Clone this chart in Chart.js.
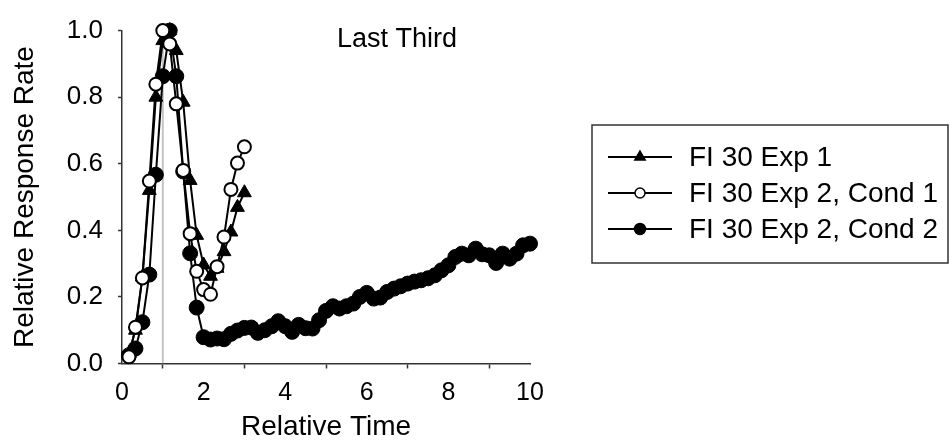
<!DOCTYPE html>
<html>
<head>
<meta charset="utf-8">
<script src="https://cdn.jsdelivr.net/npm/chart.js@4/dist/chart.umd.min.js"></script>
<style>
  html, body { margin: 0; padding: 0; background: #fff; }
</style>
</head>
<body>
<canvas id="chart" width="950" height="441"></canvas>
<script>
// relative time of each bin (sixths of the interval)
const relTime = [
  0.17, 0.33, 0.50, 0.67, 0.83, 1.00, 1.17, 1.33, 1.50, 1.67,
  1.83, 2.00, 2.17, 2.33, 2.50, 2.67, 2.83, 3.00, 3.17, 3.33,
  3.50, 3.67, 3.83, 4.00, 4.17, 4.33, 4.50, 4.67, 4.83, 5.00,
  5.17, 5.33, 5.50, 5.67, 5.83, 6.00, 6.17, 6.33, 6.50, 6.67,
  6.83, 7.00, 7.17, 7.33, 7.50, 7.67, 7.83, 8.00, 8.17, 8.33,
  8.50, 8.67, 8.83, 9.00, 9.17, 9.33, 9.50, 9.67, 9.83, 10.00
];
const exp1 = [
  0.03, 0.10, 0.26, 0.52, 0.80, 0.97, 1.00, 0.94, 0.785, 0.55,
  0.385, 0.296, 0.262, 0.286, 0.336, 0.395, 0.469, 0.513
];
const exp2Cond1 = [
  0.02, 0.109, 0.257, 0.548, 0.839, 1.00, 0.96, 0.78, 0.58, 0.39,
  0.277, 0.222, 0.208, 0.291, 0.38, 0.523, 0.602, 0.651
];
const exp2Cond2 = [
  0.025, 0.045, 0.124, 0.267, 0.567, 0.863, 1.00, 0.863, 0.577, 0.331,
  0.168, 0.079, 0.072, 0.075, 0.073, 0.089, 0.099, 0.107, 0.108, 0.092,
  0.100, 0.112, 0.127, 0.112, 0.095, 0.116, 0.106, 0.105, 0.130, 0.158,
  0.172, 0.165, 0.172, 0.180, 0.200, 0.212, 0.195, 0.198, 0.215, 0.225,
  0.232, 0.240, 0.246, 0.250, 0.256, 0.265, 0.280, 0.295, 0.320, 0.330,
  0.325, 0.345, 0.328, 0.325, 0.302, 0.330, 0.315, 0.330, 0.355, 0.360
];
const seriesLabels = ["FI 30 Exp 1", "FI 30 Exp 2, Cond 1", "FI 30 Exp 2, Cond 2"];
const refLine = [[1, 0], [1, 1]];   // grey marker at relative time 1
const panelTitle = "Last Third";

const FONT = "'Liberation Sans', Arial, sans-serif";

const pts = (ys) => ys.map((y, i) => ({ x: relTime[i], y }));

const legendStyles = [
  { style: "triangle", fill: "#000", r: 6 },
  { style: "circle", fill: "#fff", r: 5 },
  { style: "circle", fill: "#000", r: 5.5 }
];

function marker(ctx, style, x, y, r, fill) {
  ctx.beginPath();
  if (style === "triangle") {
    for (let k = 0; k < 3; k++) {
      const a = k * 2 * Math.PI / 3;
      const px = x + Math.sin(a) * r, py = y - Math.cos(a) * r;
      k ? ctx.lineTo(px, py) : ctx.moveTo(px, py);
    }
    ctx.closePath();
  } else {
    ctx.arc(x, y, r, 0, 2 * Math.PI);
  }
  ctx.fillStyle = fill;
  ctx.fill();
  ctx.lineWidth = 1.5;
  ctx.strokeStyle = "#000";
  ctx.stroke();
}

const extras = {
  id: "extras",
  afterDraw(chart) {
    const ctx = chart.ctx;
    ctx.save();
    // panel title
    ctx.font = "27px " + FONT;
    ctx.fillStyle = "#000";
    ctx.textBaseline = "middle";
    ctx.textAlign = "left";
    ctx.fillText(panelTitle, 337, 40);
    // boxed legend
    ctx.strokeStyle = "#333";
    ctx.lineWidth = 1.5;
    ctx.strokeRect(592, 125, 356, 138);
    seriesLabels.forEach((lab, i) => {
      const y = 157 + i * 36;
      ctx.beginPath();
      ctx.moveTo(608, y);
      ctx.lineTo(672, y);
      ctx.lineWidth = 2;
      ctx.strokeStyle = "#000";
      ctx.stroke();
      const s = legendStyles[i];
      marker(ctx, s.style, 640, y, s.r, s.fill);
      ctx.font = "28px " + FONT;
      ctx.fillStyle = "#000";
      ctx.fillText(lab, 689, y + 1);
    });
    ctx.restore();
  }
};

new Chart(document.getElementById("chart"), {
  type: "scatter",
  data: {
    datasets: [
      {
        label: seriesLabels[1], data: pts(exp2Cond1), showLine: true, order: 1,
        borderColor: "#000", borderWidth: 2, pointStyle: "circle", pointRadius: 6.5,
        pointBackgroundColor: "#fff", pointBorderColor: "#000", pointBorderWidth: 2, clip: false
      },
      {
        label: seriesLabels[0], data: pts(exp1), showLine: true, order: 2,
        borderColor: "#000", borderWidth: 2, pointStyle: "triangle", pointRadius: 8,
        pointBackgroundColor: "#000", pointBorderColor: "#000", pointBorderWidth: 1, clip: false
      },
      {
        label: seriesLabels[2], data: pts(exp2Cond2), showLine: true, order: 3,
        borderColor: "#000", borderWidth: 2, pointStyle: "circle", pointRadius: 7.5,
        pointBackgroundColor: "#000", pointBorderColor: "#000", pointBorderWidth: 1, clip: false
      },
      {
        data: refLine.map(([x, y]) => ({ x, y })), showLine: true, order: 10,
        borderColor: "#c4c4c4", borderWidth: 2, pointRadius: 0
      }
    ]
  },
  options: {
    responsive: false,
    animation: false,
    devicePixelRatio: 1,
    layout: { padding: { top: 25, right: 420, left: 0, bottom: 0 } },
    plugins: { legend: { display: false }, tooltip: { enabled: false } },
    scales: {
      x: {
        type: "linear", min: 0, max: 10,
        afterFit: (s) => { s.height = 77.5; },
        ticks: {
          stepSize: 1, color: "#000", padding: 10,
          font: { family: FONT, size: 25 },
          callback: (v) => (v % 2 === 0 ? String(v) : "")
        },
        grid: {
          drawOnChartArea: false, tickLength: 5, tickWidth: 1.5,
          tickColor: (c) => (c.tick && c.tick.value % 2 ? "#333" : "rgba(0,0,0,0)")
        },
        border: { color: "#333", width: 1.5 },
        title: {
          display: true, text: "Relative Time", color: "#000",
          font: { family: FONT, size: 28, lineHeight: 1 }, padding: { top: 0, bottom: 0 }
        }
      },
      y: {
        min: 0, max: 1,
        afterFit: (s) => { s.width = 122; },
        ticks: {
          stepSize: 0.1, color: "#000", padding: 15,
          font: { family: FONT, size: 26 },
          callback: (v) => (Math.round(v * 10) % 2 === 0 ? v.toFixed(1) : "")
        },
        grid: { drawOnChartArea: false, tickLength: 4, tickWidth: 1.5, tickColor: "#333" },
        border: { color: "#333", width: 1.5 },
        title: {
          display: true, text: "Relative Response Rate", color: "#000",
          font: { family: FONT, size: 28, lineHeight: 1 }, padding: { top: 11, bottom: 0 }
        }
      }
    }
  },
  plugins: [extras]
});
</script>
</body>
</html>
